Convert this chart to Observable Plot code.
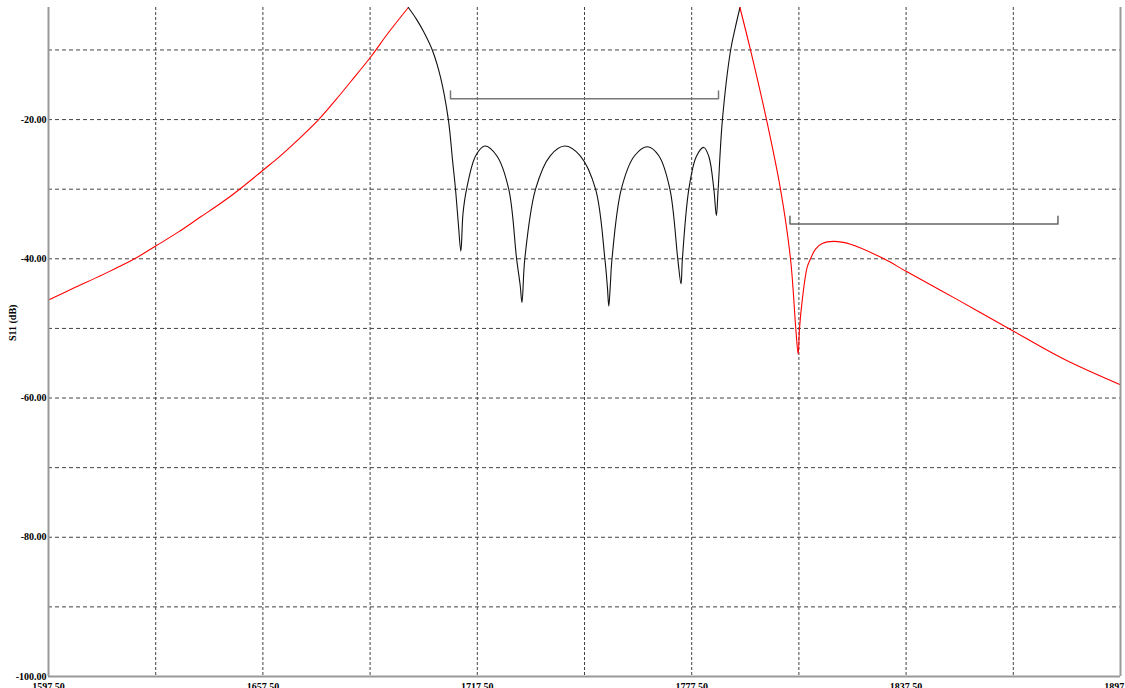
<!DOCTYPE html>
<html><head><meta charset="utf-8">
<script src="https://cdn.jsdelivr.net/npm/d3@7"></script>
<script src="https://cdn.jsdelivr.net/npm/@observablehq/plot@0.6"></script>
<style>html,body{margin:0;padding:0;overflow:hidden;background:#fff}</style>
</head><body><div id="chart"></div><script>
// Axis domains and ticks
const xDomain = [1597.5, 1897.5];
const yDomain = [-100, -3.9];
const xTicks = [1597.5, 1657.5, 1717.5, 1777.5, 1837.5, 1897.5];
const xGrid = [1627.5, 1657.5, 1687.5, 1717.5, 1747.5, 1777.5, 1807.5, 1837.5, 1867.5];
const yTicks = [-20, -40, -60, -80, -100];
const yGrid = [-10, -20, -30, -40, -50, -60, -70, -80, -90];
const yLabel = "S11 (dB)";

// Red trace, low side (MHz, dB)
const redLeftF  = [1597.5, 1605, 1613, 1621.6, 1627.7, 1634, 1640.0, 1645.5, 1651.0, 1657.7, 1662, 1666.1, 1673.1, 1678, 1682.0, 1687.6, 1692.5, 1698.2];
const redLeftDb = [-45.9, -44.1, -42.2, -40.0, -38.1, -36.1, -34.0, -32.1, -30.0, -27.2, -25.4, -23.5, -20.0, -17.1, -14.6, -11.05, -7.6, -3.9];

// Black trace, passband
const blackF  = [1698.2, 1700.5, 1702.5, 1704.9, 1707.2, 1709.4, 1710.6, 1711.4, 1712.2, 1712.9, 1713.5, 1714.5, 1717.05, 1719.6, 1722.95, 1726.3, 1728.5, 1729.5, 1730.0, 1730.8, 1733.8, 1737.9, 1742.0, 1746.3, 1750.6, 1753.2, 1753.9, 1754.3, 1754.7, 1755.2, 1757.8, 1761.5, 1765.2, 1768.3, 1771.4, 1773.6, 1774.5, 1774.9, 1776.7, 1778.8, 1780.9, 1782.3, 1783.7, 1784.4, 1784.9, 1786.1, 1788.4, 1789.7, 1791.0];
const blackDb = [-3.9, -5.6, -7.4, -10, -13.9, -20, -26, -30, -35, -38.9, -33.5, -30, -25.2, -23.8, -25.2, -30, -40, -43.8, -46.3, -40, -30, -25.2, -23.8, -25.2, -30, -40, -44.0, -46.8, -44.0, -40, -30, -25.2, -23.9, -25.2, -30, -40, -43.6, -40, -30, -25.3, -24.0, -25.3, -30, -33.8, -30, -20, -10, -6.8, -3.9];

// Red trace, high side
const redRightF  = [1791.0, 1793.95, 1798.43, 1802.35, 1805.15, 1806.63, 1807.3, 1807.67, 1808.42, 1809.82, 1810.75, 1812.15, 1814.02, 1817.27, 1821.95, 1831.3, 1837.5, 1852, 1866.2, 1881.6, 1897.5];
const redRightDb = [-3.9, -10, -20, -30, -40, -50, -53.7, -50, -46, -41.2, -40, -38.6, -37.8, -37.5, -37.9, -40, -41.8, -45.9, -50, -54.4, -58.1];

// Band markers (start MHz, end MHz, level dB)
const passBand = [1710, 1785, -17];
const stopBand = [1805, 1880, -35];
const markTick = 1.1;

const zip = (f, v) => f.map((x, i) => ({f: x, db: v[i]}));
const bracket = ([a, b, lvl]) => [
  {f: a, db: lvl + markTick}, {f: a, db: lvl}, {f: b, db: lvl}, {f: b, db: lvl + markTick}
];

const chart = Plot.plot({
  width: 1125, height: 688,
  marginLeft: 48, marginRight: 5, marginTop: 7, marginBottom: 12,
  style: {fontFamily: "'Liberation Serif', serif", fontSize: "10px", fontWeight: "bold", background: "#fff", color: "#000"},
  x: {domain: xDomain},
  y: {domain: yDomain},
  marks: [
    Plot.ruleY(yGrid, {stroke: "#444", strokeDasharray: "4,3", strokeWidth: 1}),
    Plot.ruleX(xGrid, {stroke: "#444", strokeDasharray: "3,2", strokeWidth: 1}),
    Plot.line(bracket(passBand), {x: "f", y: "db", stroke: "#777", strokeWidth: 1.5}),
    Plot.line(bracket(stopBand), {x: "f", y: "db", stroke: "#666", strokeWidth: 1.5}),
    Plot.line(zip(redLeftF, redLeftDb), {x: "f", y: "db", stroke: "#ff0000", strokeWidth: 1.1, curve: "catmull-rom", clip: true}),
    Plot.line(zip(blackF, blackDb), {x: "f", y: "db", stroke: "#111", strokeWidth: 1.1, curve: "catmull-rom", clip: true}),
    Plot.line(zip(redRightF, redRightDb), {x: "f", y: "db", stroke: "#ff0000", strokeWidth: 1.1, curve: "catmull-rom", clip: true}),
    Plot.ruleX([xDomain[0], xDomain[1]], {stroke: "#999", strokeWidth: 2}),
    Plot.ruleY([yDomain[0]], {stroke: "#999", strokeWidth: 2}),
    Plot.axisY({ticks: yTicks, tickFormat: d => d.toFixed(2), tickSize: 0, tickPadding: 2, label: null}),
    Plot.axisX({ticks: xTicks, tickFormat: d => d.toFixed(2), tickSize: 0, tickPadding: 6, label: null}),
    Plot.text([yLabel], {frameAnchor: "left", dx: -36, dy: -1, rotate: -90, text: d => d, fontSize: 10, fontWeight: "bold"})
  ]
});
document.getElementById("chart").appendChild(chart);
</script></body></html>
